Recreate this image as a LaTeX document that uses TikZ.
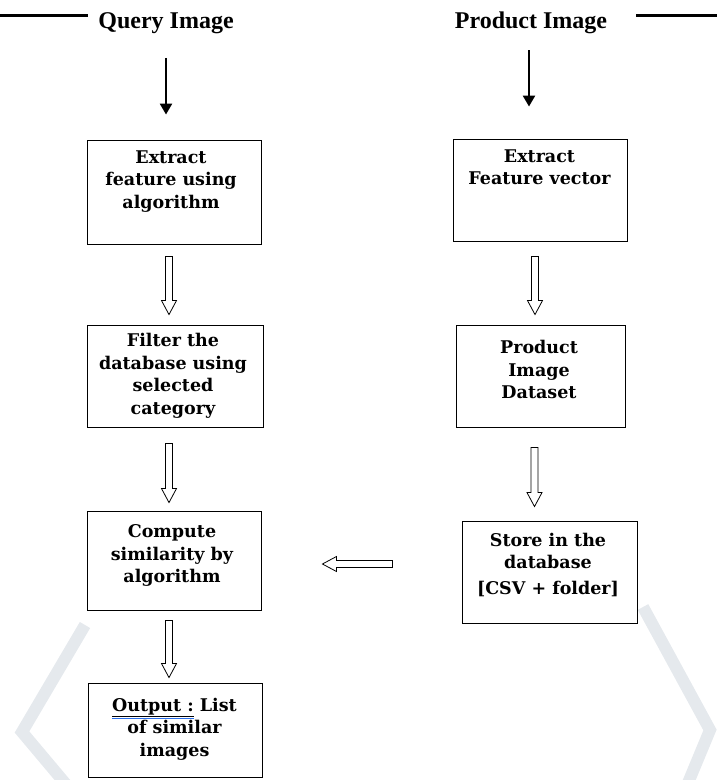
\documentclass[tikz,border=0pt]{standalone}
\usepackage{fontspec}
\setmainfont{DejaVu Serif}
\newfontfamily\titlefont{Liberation Serif}
\usetikzlibrary{arrows.meta, calc}
\definecolor{markblue}{RGB}{40,110,235}
\definecolor{wmgray}{RGB}{229,233,237}
\newcommand\markword[1]{\setbox0=\hbox{\underline{#1}}\rlap{\textcolor{markblue}{\rule[-8pt]{\wd0}{1.1pt}}}\box0\relax}
\newcommand\hollowarrow[2]{%
  \draw[line width=0.8pt, fill=white]
    ($(#1)!3.5pt!90:(#2)$) -- ($(#2)!14pt!(#1)!3.5pt!-90:(#1)$) -- ($(#2)!14pt!(#1)!7.5pt!-90:(#1)$)
    -- (#2) -- ($(#2)!14pt!(#1)!7.5pt!90:(#1)$) -- ($(#2)!14pt!(#1)!3.5pt!90:(#1)$)
    -- ($(#1)!3.5pt!-90:(#2)$) -- cycle;}
\tikzset{
  box/.style={draw, line width=0.9pt, inner sep=0pt},
  txt/.style={font=\bfseries\fontsize{17.5}{22.5}\selectfont, align=center, inner sep=0pt},
  title/.style={font=\titlefont\bfseries\fontsize{24}{26}\selectfont, inner sep=0pt},
  blkarrow/.style={line width=2.4pt, -{Triangle[length=11pt, width=12pt]}}
}

\begin{document}
\begin{tikzpicture}[x=1pt, y=-1pt]
\useasboundingbox (0,0) rectangle (717,780);
\draw[wmgray, line width=12pt] (85,625) -- (22,732) -- (75,795);
\draw[wmgray, line width=12pt] (643,607) -- (710,730) -- (683,795);
\draw[line width=3pt] (0,15) -- (88,15);
\draw[line width=3pt] (636,15) -- (717,15);

\node[title] (qtitle) at (166,23) {Query Image};
\node[title] (ptitle) at (531,23) {Product Image};

\node[box, minimum width=174, minimum height=104] (qext) at (174,192) {};
\node[txt] (qextT) at (171,181.5) {Extract\\feature using\\algorithm};
\node[box, minimum width=176, minimum height=102] (qfilt) at (175,376) {};
\node[txt] (qfiltT) at (173,376) {Filter the\\database using\\selected\\category};
\node[box, minimum width=174, minimum height=99] (qcomp) at (174,560.5) {};
\node[txt] (qcompT) at (172,555.5) {Compute\\similarity by\\algorithm};
\node[box, minimum width=174, minimum height=94] (qout) at (175,730) {};
\node[txt] (qoutT) at (174.5,729) {\markword{Output :} List\\of similar\\images};

\node[box, minimum width=174, minimum height=102] (pext) at (540,190) {};
\node[txt] (pextT) at (539.5,167) {Extract\\Feature vector};
\node[box, minimum width=169, minimum height=102] (pdata) at (540.5,376) {};
\node[txt] (pdataT) at (539,369.5) {Product\\Image\\Dataset};
\node[box, minimum width=175, minimum height=102] (pstore) at (549.5,572) {};
\node[txt] (pstoreT) at (548,564.5) {Store in the\\database\\[3pt][CSV + folder]};

\draw[blkarrow] ([yshift=-24pt]qtitle.south) -- ([yshift=25pt]qtitle.south |- qext.north);
\draw[blkarrow] ([xshift=-2pt, yshift=-16pt]ptitle.south) -- ([xshift=-2pt, yshift=32pt]ptitle.south |- pext.north);

\coordinate (a1s) at ([xshift=-5pt, yshift=-12pt]qext.south);
\coordinate (a1e) at ([xshift=-5pt, yshift=10pt]qext.south |- qfilt.north);
\coordinate (a2s) at ([xshift=-6pt, yshift=-16pt]qfilt.south);
\coordinate (a2e) at ([xshift=-6pt, yshift=8pt]qfilt.south |- qcomp.north);
\coordinate (a3s) at ([xshift=-5pt, yshift=-10pt]qcomp.south);
\coordinate (a3e) at ([xshift=-5pt, yshift=5pt]qcomp.south |- qout.north);
\coordinate (b1s) at ([xshift=-5pt, yshift=-15pt]pext.south);
\coordinate (b1e) at ([xshift=-5pt, yshift=10pt]pext.south |- pdata.north);
\coordinate (b2s) at ([xshift=-6pt, yshift=-20pt]pdata.south);
\coordinate (b2e) at ([xshift=-6pt, yshift=14pt]pdata.south |- pstore.north);
\coordinate (cs) at ([xshift=-69pt]pstore.west |- 0,564);
\coordinate (ce) at ([xshift=61pt]qcomp.east |- 0,564);

\hollowarrow{a1s}{a1e}
\hollowarrow{a2s}{a2e}
\hollowarrow{a3s}{a3e}
\hollowarrow{b1s}{b1e}
\hollowarrow{b2s}{b2e}
\hollowarrow{cs}{ce}
\end{tikzpicture}
\end{document}
